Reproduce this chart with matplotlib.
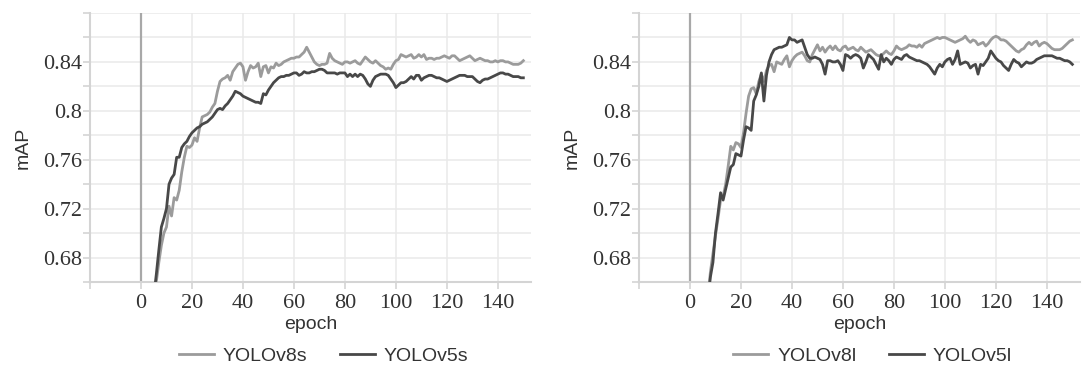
import matplotlib.pyplot as plt
from matplotlib.ticker import MultipleLocator
import numpy as np

# epochs 1..150
epochs = np.arange(1, 151)

# left panel: small models
yolov8s = [
    0.400, 0.520, 0.580, 0.620, 0.645, 0.660, 0.676, 0.690, 0.700, 0.705,
    0.722, 0.714, 0.729, 0.727, 0.735, 0.750, 0.762, 0.771, 0.770, 0.772,
    0.778, 0.775, 0.786, 0.795, 0.796, 0.797, 0.799, 0.803, 0.806, 0.816,
    0.824, 0.826, 0.827, 0.829, 0.825, 0.832, 0.835, 0.838, 0.839, 0.836,
    0.825, 0.832, 0.837, 0.835, 0.836, 0.839, 0.828, 0.836, 0.837, 0.831,
    0.836, 0.835, 0.839, 0.837, 0.838, 0.840, 0.841, 0.842, 0.843, 0.843,
    0.844, 0.844, 0.846, 0.848, 0.852, 0.848, 0.844, 0.840, 0.838, 0.837,
    0.838, 0.838, 0.839, 0.847, 0.843, 0.841, 0.840, 0.839, 0.838, 0.840,
    0.840, 0.839, 0.840, 0.841, 0.839, 0.838, 0.841, 0.844, 0.842, 0.840,
    0.839, 0.841, 0.839, 0.837, 0.836, 0.834, 0.835, 0.834, 0.838, 0.841,
    0.842, 0.846, 0.845, 0.844, 0.845, 0.846, 0.843, 0.844, 0.846, 0.844,
    0.846, 0.842, 0.843, 0.843, 0.842, 0.843, 0.843, 0.844, 0.845, 0.844,
    0.843, 0.845, 0.845, 0.843, 0.841, 0.842, 0.843, 0.844, 0.845, 0.843,
    0.841, 0.842, 0.843, 0.842, 0.841, 0.841, 0.840, 0.840, 0.841, 0.840,
    0.841, 0.841, 0.840, 0.840, 0.839, 0.838, 0.838, 0.838, 0.839, 0.841,
]
yolov5s = [
    0.420, 0.530, 0.590, 0.625, 0.648, 0.666, 0.686, 0.705, 0.712, 0.720,
    0.740, 0.745, 0.748, 0.762, 0.762, 0.770, 0.773, 0.775, 0.779, 0.782,
    0.784, 0.786, 0.787, 0.789, 0.790, 0.791, 0.793, 0.795, 0.798, 0.801,
    0.802, 0.801, 0.804, 0.806, 0.809, 0.812, 0.816, 0.815, 0.814, 0.812,
    0.811, 0.810, 0.809, 0.808, 0.807, 0.807, 0.806, 0.814, 0.813, 0.817,
    0.820, 0.823, 0.825, 0.827, 0.828, 0.828, 0.829, 0.829, 0.830, 0.831,
    0.831, 0.829, 0.830, 0.832, 0.831, 0.831, 0.832, 0.832, 0.833, 0.834,
    0.834, 0.833, 0.831, 0.831, 0.831, 0.831, 0.830, 0.831, 0.831, 0.831,
    0.828, 0.830, 0.828, 0.830, 0.828, 0.830, 0.829, 0.826, 0.822, 0.820,
    0.825, 0.828, 0.829, 0.830, 0.830, 0.830, 0.829, 0.826, 0.823, 0.819,
    0.821, 0.823, 0.823, 0.824, 0.826, 0.828, 0.826, 0.829, 0.829, 0.825,
    0.827, 0.828, 0.829, 0.829, 0.828, 0.827, 0.827, 0.826, 0.825, 0.824,
    0.825, 0.826, 0.827, 0.828, 0.829, 0.829, 0.829, 0.828, 0.828, 0.828,
    0.826, 0.824, 0.823, 0.825, 0.826, 0.826, 0.827, 0.828, 0.829, 0.830,
    0.831, 0.831, 0.830, 0.830, 0.829, 0.828, 0.828, 0.828, 0.827, 0.827,
]

# right panel: large models
yolov8l = [
    0.300, 0.400, 0.480, 0.540, 0.590, 0.620, 0.645, 0.668, 0.683, 0.698,
    0.712, 0.727, 0.730, 0.740, 0.755, 0.771, 0.768, 0.774, 0.773, 0.770,
    0.782, 0.798, 0.812, 0.818, 0.819, 0.814, 0.824, 0.830, 0.824, 0.833,
    0.837, 0.838, 0.832, 0.840, 0.839, 0.838, 0.842, 0.845, 0.836, 0.841,
    0.844, 0.846, 0.847, 0.848, 0.845, 0.841, 0.840, 0.846, 0.850, 0.854,
    0.849, 0.852, 0.848, 0.851, 0.853, 0.850, 0.853, 0.850, 0.849, 0.852,
    0.853, 0.850, 0.851, 0.852, 0.850, 0.849, 0.852, 0.850, 0.848, 0.849,
    0.850, 0.848, 0.846, 0.845, 0.845, 0.847, 0.849, 0.847, 0.846, 0.849,
    0.853, 0.851, 0.850, 0.851, 0.852, 0.854, 0.853, 0.853, 0.852, 0.854,
    0.852, 0.855, 0.856, 0.857, 0.858, 0.859, 0.860, 0.859, 0.860, 0.860,
    0.859, 0.858, 0.857, 0.856, 0.857, 0.858, 0.859, 0.861, 0.858, 0.856,
    0.858, 0.857, 0.854, 0.855, 0.856, 0.853, 0.855, 0.858, 0.860, 0.861,
    0.860, 0.858, 0.858, 0.857, 0.855, 0.853, 0.851, 0.849, 0.848, 0.850,
    0.851, 0.854, 0.856, 0.854, 0.856, 0.857, 0.853, 0.855, 0.856, 0.855,
    0.853, 0.851, 0.850, 0.850, 0.850, 0.851, 0.853, 0.855, 0.857, 0.858,
]
yolov5l = [
    0.300, 0.400, 0.480, 0.540, 0.590, 0.620, 0.645, 0.664, 0.676, 0.700,
    0.716, 0.733, 0.727, 0.736, 0.745, 0.754, 0.756, 0.765, 0.764, 0.763,
    0.776, 0.787, 0.786, 0.784, 0.808, 0.813, 0.820, 0.831, 0.808, 0.829,
    0.840, 0.846, 0.850, 0.851, 0.852, 0.852, 0.853, 0.854, 0.860, 0.858,
    0.858, 0.856, 0.857, 0.858, 0.852, 0.846, 0.843, 0.843, 0.844, 0.843,
    0.842, 0.838, 0.830, 0.841, 0.841, 0.840, 0.840, 0.841, 0.838, 0.833,
    0.846, 0.845, 0.843, 0.845, 0.846, 0.845, 0.843, 0.835, 0.840, 0.846,
    0.844, 0.842, 0.838, 0.834, 0.846, 0.840, 0.843, 0.841, 0.838, 0.842,
    0.844, 0.843, 0.842, 0.845, 0.846, 0.844, 0.843, 0.842, 0.841, 0.841,
    0.840, 0.839, 0.838, 0.836, 0.833, 0.830, 0.835, 0.838, 0.836, 0.840,
    0.842, 0.843, 0.838, 0.842, 0.849, 0.838, 0.839, 0.840, 0.839, 0.835,
    0.837, 0.838, 0.830, 0.838, 0.837, 0.840, 0.843, 0.849, 0.846, 0.843,
    0.841, 0.840, 0.837, 0.835, 0.833, 0.838, 0.842, 0.840, 0.839, 0.836,
    0.838, 0.840, 0.839, 0.839, 0.840, 0.842, 0.843, 0.844, 0.845, 0.845,
    0.845, 0.845, 0.844, 0.843, 0.843, 0.842, 0.841, 0.841, 0.840, 0.838,
]

panels = [
    (yolov8s, yolov5s, 'YOLOv8s', 'YOLOv5s'),
    (yolov8l, yolov5l, 'YOLOv8l', 'YOLOv5l'),
]

light = '#9b9b9b'
dark = '#484848'
sans = 'Liberation Sans'
serif = 'Liberation Serif'

fig = plt.figure(figsize=(10.82, 3.67), dpi=100, facecolor='white')
axes_left = [90 / 1082, 639 / 1082]

for left, (new, old, new_name, old_name) in zip(axes_left, panels):
    ax = fig.add_axes([left, 85 / 367, 441 / 1082, 269 / 367])
    ax.plot(epochs, new, color=light, linewidth=2.0, label=new_name, zorder=3)
    ax.plot(epochs, old, color=dark, linewidth=2.0, label=old_name, zorder=3)
    # reference line at epoch 0
    ax.axvline(0, color='#a8a8a8', linewidth=1.6, zorder=2)

    ax.set_xlim(-20, 153)
    ax.set_ylim(0.66, 0.88)
    ax.set_xticks(np.arange(-20, 141, 20))
    ax.set_xticklabels([''] + [str(v) for v in range(0, 141, 20)])
    ax.set_yticks([0.68, 0.72, 0.76, 0.80, 0.84])
    ax.set_yticklabels(['0.68', '0.72', '0.76', '0.8', '0.84'])
    ax.yaxis.set_minor_locator(MultipleLocator(0.02))

    ax.grid(True, which='both', color='#e9e9e9', linewidth=1.1, zorder=0)
    ax.set_axisbelow(True)
    for side in ['top', 'right']:
        ax.spines[side].set_visible(False)
    for side in ['left', 'bottom']:
        ax.spines[side].set_color('#d4d4d4')
        ax.spines[side].set_linewidth(1.5)
    ax.tick_params(axis='both', which='both', direction='out', length=5,
                   width=1.2, color='#d4d4d4')
    ax.tick_params(axis='y', pad=1)
    ax.tick_params(axis='x', pad=4)
    for lab in ax.get_xticklabels() + ax.get_yticklabels():
        lab.set_fontfamily(serif)
        lab.set_fontsize(16)
        lab.set_color('#333333')

    ax.set_xlabel('epoch', fontfamily=sans, fontsize=14, color='#333333', labelpad=1.5)
    ax.set_ylabel('mAP', fontfamily=sans, fontsize=14, color='#333333', labelpad=8)

    ax.legend(loc='center', bbox_to_anchor=(0.53, -0.275), ncol=2, frameon=False,
              prop={'family': sans, 'size': 14}, handlelength=1.8,
              handletextpad=0.45, columnspacing=1.7, labelcolor='#333333')

plt.savefig('out.png', dpi=100)
